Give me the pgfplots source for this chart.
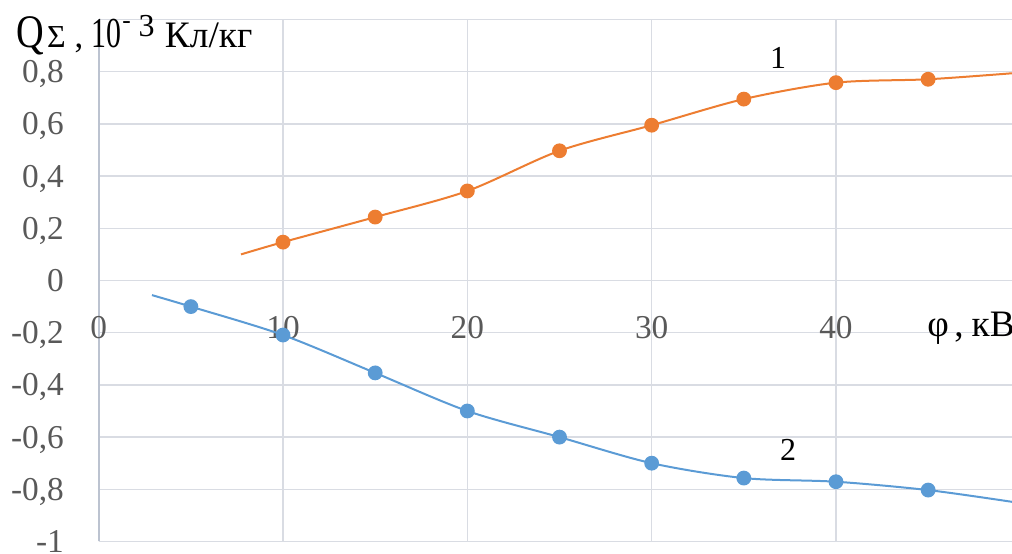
\documentclass[border=0pt]{standalone}
\usepackage{fontspec}
\setmainfont{Liberation Serif}
\newfontfamily\condfont[FakeStretch=0.82]{Liberation Serif}
\newfontfamily\narrowfont[FakeStretch=0.7]{Liberation Serif}
\usepackage{pgfplots}
\pgfplotsset{compat=1.18}
\definecolor{sorange}{HTML}{ED7D31}
\definecolor{sblue}{HTML}{5B9BD5}
\definecolor{gridc}{HTML}{D9DCE3}
\definecolor{tickc}{HTML}{595959}
\definecolor{axc}{HTML}{BCC3D0}
\newcommand{\fs}[1]{\fontsize{#1}{#1}\selectfont}
\begin{document}
\begin{tikzpicture}
\begin{axis}[
  scale only axis, width=684.98pt, height=391.5pt,
  anchor=south west, at={(0pt,0pt)},
  xmin=0, xmax=49.55, ymin=-1, ymax=1,
  axis x line*=bottom, axis y line*=left,
  x axis line style={draw=gridc, line width=1.1pt},
  y axis line style={draw=axc, line width=1.6pt},
  xtick={0,10,20,30,40}, xticklabels={0,10,20,30,40},
  ytick={-1,-0.8,-0.6,-0.4,-0.2,0,0.2,0.4,0.6,0.8,1},
  yticklabels={-1,{-0,8},{-0,6},{-0,4},{-0,2},0,{0,2},{0,4},{0,6},{0,8},{}},
  major tick length=0pt,
  grid=major, grid style={draw=gridc, line width=1.1pt},
  tick label style={font=\fs{25}, text=tickc, inner sep=0pt, text depth=0pt},
  yticklabel style={anchor=east, xshift=-26pt},
  xticklabel style={anchor=center, yshift=160.9pt},
  clip mode=individual,
]
\addplot[sorange, line width=1.5pt, smooth, mark=*, mark size=4.8pt,
  mark indices={2,3,4,5,6,7,8,9}, mark options={fill=sorange, draw=sorange}]
  coordinates {(7.72,0.10) (10,0.147) (15,0.243) (20,0.343) (25,0.497) (30,0.595)
               (35,0.695) (40,0.758) (45,0.771) (49.55,0.794)};
\addplot[sblue, line width=1.5pt, smooth, mark=*, mark size=4.8pt,
  mark indices={2,3,4,5,6,7,8,9,10}, mark options={fill=sblue, draw=sblue}]
  coordinates {(2.89,-0.056) (5,-0.10) (10,-0.209) (15,-0.354) (20,-0.50) (25,-0.60)
               (30,-0.70) (35,-0.757) (40,-0.771) (45,-0.803) (49.55,-0.848)};
\node[font=\fs{24}, inner sep=0pt, text depth=0pt] at (axis cs:36.86,0.852) {1};
\node[font=\fs{24}, inner sep=0pt, text depth=0pt] at (axis cs:37.4,-0.649) {2};
\node[font=\fs{28}, inner sep=0pt, anchor=base west] at (axis cs:44.95,-0.216) {φ\kern4pt,\kern6pt кВ};
\end{axis}
% title pieces (pixel -> pt)
\node[anchor=base west, inner sep=0pt, font=\condfont\fs{35}] at (-62.0pt,370.35pt) {Q};
\node[anchor=base west, inner sep=0pt, font=\fs{24}] at (-38.8pt,370.35pt) {Σ};
\node[anchor=base west, inner sep=0pt, font=\fs{26}] at (-18.3pt,370.35pt) {,};
\node[anchor=base west, inner sep=0pt, font=\narrowfont\fs{32}] at (-5.5pt,370.35pt) {10};
\node[anchor=base west, inner sep=0pt, font=\fs{19}] at (17.5pt,384.4pt) {-};
\node[anchor=base west, inner sep=0pt, font=\fs{24}] at (29.8pt,378.6pt) {3};
\node[anchor=base west, inner sep=0pt, font=\fs{28}] at (49.5pt,370.35pt) {Кл/кг};
\pgfresetboundingbox
\path[use as bounding box] (-74.03pt,-9.375pt) rectangle (684.98pt,406.125pt);
\end{tikzpicture}
\end{document}
